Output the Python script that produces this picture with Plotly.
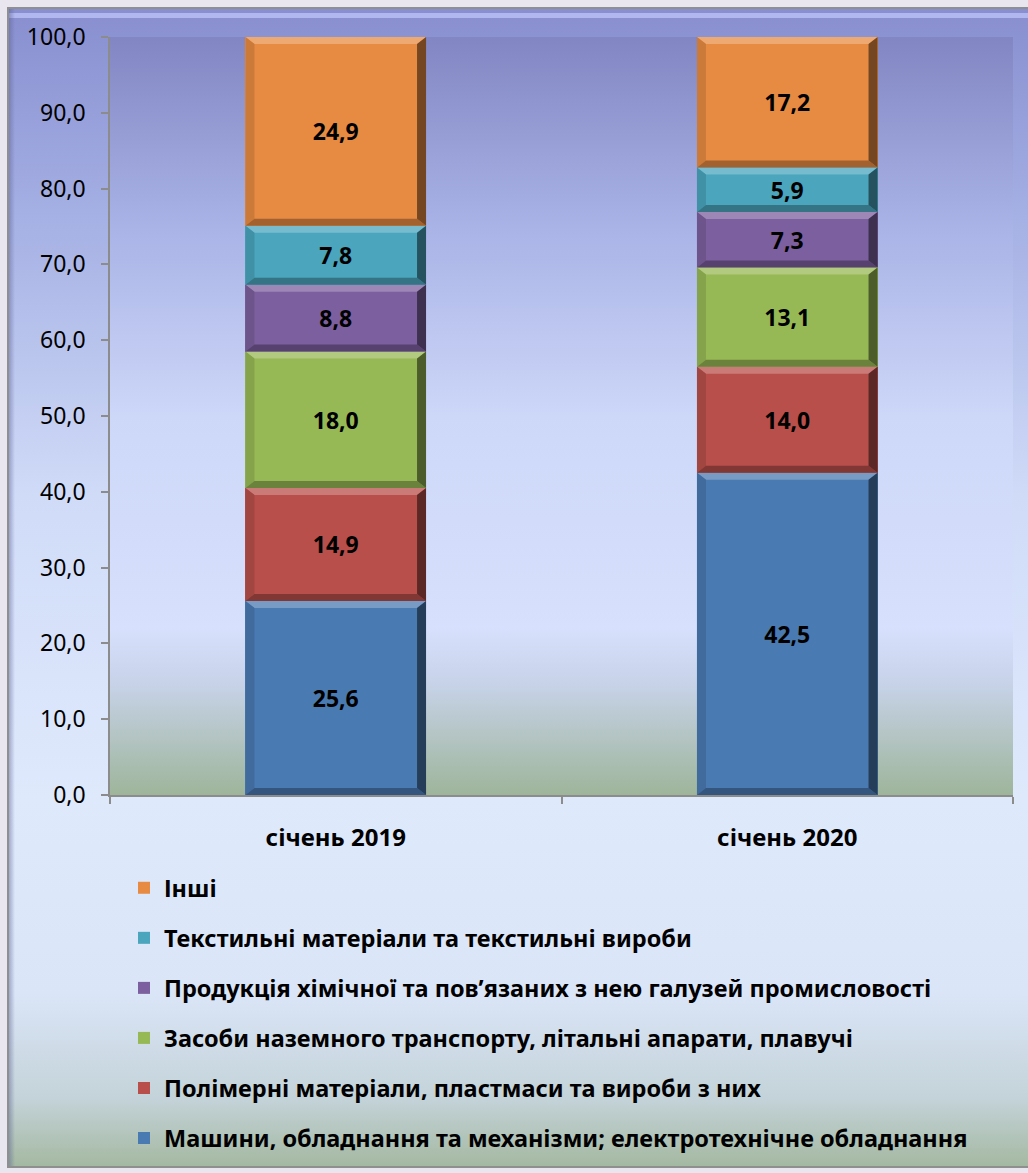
import base64
import plotly.graph_objects as go

# ---------------- data ----------------
categories = ["січень 2019", "січень 2020"]
series_names = [
    "Машини, обладнання та механізми; електротехнічне обладнання",
    "Полімерні матеріали, пластмаси та вироби з них",
    "Засоби наземного транспорту, літальні апарати, плавучі",
    "Продукція хімічної та пов’язаних з нею галузей промисловості",
    "Текстильні матеріали та текстильні вироби",
    "Інші",
]
machines = [25.6, 42.5]
polymers = [14.9, 14.0]
transport = [18.0, 13.1]
chemical = [8.8, 7.3]
textile = [7.8, 5.9]
other = [24.9, 17.2]
y_ticks = [0, 10, 20, 30, 40, 50, 60, 70, 80, 90, 100]

series_values = [machines, polymers, transport, chemical, textile, other]
colors = ["#4a7ab2", "#b84f4b", "#97b955", "#7c5f9e", "#4aa5bd", "#e88b42"]

FONT = "'Noto Sans', 'Open Sans', sans-serif"
W, H = 1028, 1173
L, R, T, B = 110, 15, 37, 378
BAR_W = 0.4
xpos = list(range(len(categories)))


def mix(hexc, other_hex, t):
    a = [int(hexc[i:i + 2], 16) for i in (1, 3, 5)]
    b = [int(other_hex[i:i + 2], 16) for i in (1, 3, 5)]
    c = [round(a[k] + (b[k] - a[k]) * t) for k in range(3)]
    return "#%02x%02x%02x" % tuple(c)


def svg_uri(svg):
    return "data:image/svg+xml;base64," + base64.b64encode(svg.encode("utf-8")).decode()


fig = go.Figure()
n = len(series_names)
for i, (name, vals, col) in enumerate(zip(series_names, series_values, colors)):
    fig.add_trace(go.Bar(
        x=xpos, y=vals, name=name, width=BAR_W,
        marker=dict(color=col, line=dict(width=0)),
        texttemplate="%{y:.1f}", textposition="inside",
        insidetextanchor="middle", textangle=0,
        textfont=dict(family=FONT, size=23, color="black", weight="bold"),
        legendgroup=name, legendrank=n - i,
        hoverinfo="skip",
    ))

# bevel effect shapes derived from data
plot_w = W - L - R
plot_h = H - T - B
dx = 9 / (plot_w / 2.0)
dy = 7 / (plot_h / 100.0)
shapes = []
for ci, xc in enumerate(xpos):
    base = 0.0
    for vals, col in zip(series_values, colors):
        y0, y1 = base, base + vals[ci]
        x0, x1 = xc - BAR_W / 2, xc + BAR_W / 2
        base = y1
        # top highlight
        shapes.append(dict(type="path", xref="x", yref="y", layer="above",
                           path=f"M{x0},{y1} L{x1},{y1} L{x1-dx},{y1-dy} L{x0+dx},{y1-dy} Z",
                           fillcolor=mix(col, "#ffffff", 0.25), line=dict(width=0)))
        # left
        shapes.append(dict(type="path", xref="x", yref="y", layer="above",
                           path=f"M{x0},{y1} L{x0+dx},{y1-dy} L{x0+dx},{y0+dy} L{x0},{y0} Z",
                           fillcolor=mix(col, "#000000", 0.12), line=dict(width=0)))
        # bottom
        shapes.append(dict(type="path", xref="x", yref="y", layer="above",
                           path=f"M{x0},{y0} L{x1},{y0} L{x1-dx},{y0+dy} L{x0+dx},{y0+dy} Z",
                           fillcolor=mix(col, "#000000", 0.3), line=dict(width=0)))
        # right
        shapes.append(dict(type="path", xref="x", yref="y", layer="above",
                           path=f"M{x1},{y1} L{x1},{y0} L{x1-dx},{y0+dy} L{x1-dx},{y1-dy} Z",
                           fillcolor=mix(col, "#000000", 0.5), line=dict(width=0)))

# background images (gradients)
fx0, fy0, fx1, fy1 = 7, 7, 1028, 1168
fw, fh = fx1 - fx0, fy1 - fy0
frame_svg = f'''<svg xmlns="http://www.w3.org/2000/svg" width="{fw}" height="{fh}" viewBox="0 0 {fw} {fh}" preserveAspectRatio="none">
<defs><linearGradient id="g" x1="0" y1="0" x2="0" y2="1">
<stop offset="0" stop-color="#888ecf"/>
<stop offset="0.17" stop-color="#a3aee3"/>
<stop offset="0.42" stop-color="#d0dbf8"/>
<stop offset="0.68" stop-color="#dfe9fc"/>
<stop offset="0.85" stop-color="#dae5f7"/>
<stop offset="0.94" stop-color="#c4d3d9"/>
<stop offset="1" stop-color="#a3b8a0"/>
</linearGradient>
<linearGradient id="l" x1="0" y1="0" x2="1" y2="0">
<stop offset="0" stop-color="#5a5f90" stop-opacity="0.6"/>
<stop offset="1" stop-color="#5a5f90" stop-opacity="0"/>
</linearGradient></defs>
<rect x="0" y="0" width="{fw}" height="{fh}" fill="url(#g)"/>
<rect x="0" y="6" width="{fw}" height="5" fill="#b9c0f4" opacity="0.85"/>
<rect x="0" y="0" width="8" height="{fh}" fill="url(#l)"/>
<rect x="1" y="1" width="{fw+5}" height="{fh-2}" fill="none" stroke="#8f8f8f" stroke-width="2"/>
</svg>'''

plot_svg = '''<svg xmlns="http://www.w3.org/2000/svg" width="100" height="100" viewBox="0 0 100 100" preserveAspectRatio="none">
<defs><linearGradient id="p" x1="0" y1="0" x2="0" y2="1">
<stop offset="0" stop-color="#8286c3"/>
<stop offset="0.25" stop-color="#a9b3e6"/>
<stop offset="0.5" stop-color="#cdd7f8"/>
<stop offset="0.78" stop-color="#d7e0fc"/>
<stop offset="0.85" stop-color="#c8d3ea"/>
<stop offset="1" stop-color="#9eb59b"/>
</linearGradient></defs>
<rect x="0" y="0" width="100" height="100" fill="url(#p)"/>
</svg>'''


def px_to_paper_x(px):
    return (px - L) / plot_w


def px_to_paper_y(py):
    return (H - B - py) / plot_h


images = [
    dict(source=svg_uri(frame_svg), xref="paper", yref="paper",
         x=px_to_paper_x(fx0), y=px_to_paper_y(fy0),
         sizex=fw / plot_w, sizey=fh / plot_h,
         xanchor="left", yanchor="top", sizing="stretch", layer="below"),
    dict(source=svg_uri(plot_svg), xref="paper", yref="paper",
         x=0, y=1, sizex=1, sizey=1,
         xanchor="left", yanchor="top", sizing="stretch", layer="below"),
]

fig.update_layout(
    width=W, height=H,
    margin=dict(l=L, r=R, t=T, b=B, autoexpand=False),
    paper_bgcolor="#e9e6ef",
    plot_bgcolor="rgba(0,0,0,0)",
    barmode="stack",
    separators=", ",
    showlegend=True,
    font=dict(family=FONT, color="black"),
    shapes=shapes,
    images=images,
    legend=dict(
        xref="container", yref="container",
        x=124 / W, y=1 - 866 / H,
        xanchor="left", yanchor="top",
        orientation="v",
        traceorder="grouped",
        tracegroupgap=16.5,
        bgcolor="rgba(0,0,0,0)",
        font=dict(family=FONT, size=23.5, color="black", weight="bold"),
        itemwidth=30,
    ),
    xaxis=dict(
        range=[-0.5, 1.5],
        tickmode="array", tickvals=xpos, ticktext=categories,
        ticks="", showline=True, linecolor="#8c8c8c", linewidth=1.5,
        showgrid=False, zeroline=False, automargin=False,
        ticklabelstandoff=20,
        tickfont=dict(family=FONT, size=24, color="black", weight="bold"),
        minor=dict(tickmode="array", tickvals=[-0.5, 0.5, 1.5], ticks="outside",
                   ticklen=7, tickcolor="#8c8c8c", tickwidth=1.5, showgrid=False),
        fixedrange=True,
    ),
    yaxis=dict(
        range=[0, 100],
        tickmode="array", tickvals=y_ticks, tickformat=".1f",
        ticks="outside", ticklen=7, tickcolor="#8c8c8c", tickwidth=1.5,
        showline=True, linecolor="#8c8c8c", linewidth=1.5,
        showgrid=False, zeroline=False, automargin=False,
        ticklabelstandoff=11,
        tickfont=dict(family=FONT, size=23, color="black"),
        fixedrange=True,
    ),
)

fig.write_html("out.html", config={"displayModeBar": False},
               post_script="document.body.style.margin='0';")
